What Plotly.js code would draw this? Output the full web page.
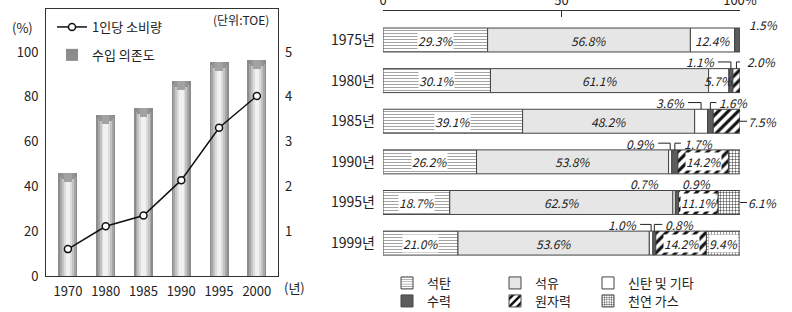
<!DOCTYPE html>
<html><head><meta charset="utf-8">
<script src="https://cdn.plot.ly/plotly-3.0.1.min.js"></script>
<style>body{margin:0;padding:0;background:#fff}#chart{width:792px;height:312px}</style>
</head><body><div id="chart"></div>
<script>
// ---- Left panel data ----
const years = ['1970', '1980', '1985', '1990', '1995', '2000'];
const importDependence = [46, 72, 75, 87, 95.6, 96.4];     // 수입 의존도 (%)
const perCapitaToe = [0.60, 1.11, 1.35, 2.14, 3.31, 4.02];  // 1인당 소비량 (TOE)
const leftTicks = [0, 20, 40, 60, 80, 100];
const rightTicks = [1, 2, 3, 4, 5];

// ---- Right panel data ----
const energyYears = ['1975년', '1980년', '1985년', '1990년', '1995년', '1999년'];
const seriesNames = ['석탄', '석유', '신탄 및 기타', '수력', '원자력', '천연 가스'];
const coal     = [29.3, 30.1, 39.1, 26.2, 18.7, 21.0];
const oil      = [56.8, 61.1, 48.2, 53.8, 62.5, 53.6];
const firewood = [12.4, 5.7, 3.6, 0.9, 0.7, 1.0];
const hydro    = [1.5, 1.1, 1.6, 1.7, 0.9, 0.8];
const nuclear  = [0, 2.0, 7.5, 14.2, 11.1, 14.2];
const gas      = [0, 0, 0, 3.2, 6.1, 9.4];
const pctTickVals = [0, 50, 100];
const pctTickText = ['0', '50', '100%'];

// ---- helpers ----
const W = 792, H = 312;
const px = x => x / W, py = y => 1 - y / H;
const FONT = '"Noto Sans CJK KR", "Noto Sans", sans-serif';
const TXT = '#222';

const traces = [];

// cylindrical gradient bars: overlaid layers
const layers = [
  {w: 0.50, c: '#8c8c8c'}, {w: 0.42, c: '#a6a6a6'}, {w: 0.32, c: '#c3c3c3'},
  {w: 0.22, c: '#dcdcdc'}, {w: 0.12, c: '#f1f1f1'}
];
layers.forEach((L, i) => {
  traces.push({
    type: 'bar', x: years, y: importDependence, width: L.w,
    marker: {color: L.c, line: {width: 0}},
    xaxis: 'x', yaxis: 'y', hoverinfo: 'skip',
    name: '수입 의존도', showlegend: i === 0, legend: 'legend3',
    legendgroup: 'b', legendrank: 2
  });
});
// conical cap at bar tops
const caps = [{w: 0.50, h: 1.6, c: '#8a8a8a'}, {w: 0.36, h: 2.8, c: '#949494'}, {w: 0.2, h: 4.0, c: '#a2a2a2'}];
caps.forEach(C => {
  traces.push({
    type: 'bar', x: years, y: importDependence.map(() => C.h),
    base: importDependence.map(v => v - C.h), width: C.w,
    marker: {color: C.c, line: {width: 0}},
    xaxis: 'x', yaxis: 'y', hoverinfo: 'skip', showlegend: false
  });
});
// line
traces.push({
  type: 'scatter', mode: 'lines+markers', x: years, y: perCapitaToe,
  xaxis: 'x', yaxis: 'y2', name: '1인당 소비량', legend: 'legend3',
  legendgroup: 'a', legendrank: 1,
  line: {color: '#111', width: 1.5},
  marker: {symbol: 'circle', size: 7, color: '#fff', line: {color: '#111', width: 1.5}}
});

// stacked horizontal bars (base from cumulative sums)
const allSeries = [coal, oil, firewood, hydro, nuclear, gas];
const legendIds = ['legend', 'legend2', 'legend4', 'legend5', 'legend6', 'legend7'];
const styles = [
  {color: '#fff', pattern: {shape: '-', fgcolor: '#9a9a9a', bgcolor: '#fff', size: 3, solidity: 0.3}},
  {color: '#e6e6e6'},
  {color: '#ffffff'},
  {color: '#5c5c5c'},
  {color: '#fff', pattern: {shape: '/', fgcolor: '#111', bgcolor: '#fff', size: 7, solidity: 0.45}},
  {color: '#fff', pattern: {shape: '+', fgcolor: '#222', bgcolor: '#fff', size: 3, solidity: 0.28}}
];
const starts = allSeries.map((s, k) => s.map((_, r) => {
  let t = 0; for (let j = 0; j < k; j++) t += allSeries[j][r]; return t;
}));
allSeries.forEach((s, k) => {
  traces.push({
    type: 'bar', orientation: 'h', y: energyYears,
    x: s.map(v => v > 0 ? v : null), base: starts[k], width: 0.59,
    xaxis: 'x3', yaxis: 'y3', name: seriesNames[k],
    legend: legendIds[k],
    marker: Object.assign({line: {color: '#444', width: 1}}, styles[k]),
    hoverinfo: 'skip'
  });
});

// labels
const pxPerUnit = (740 - 383) / 100;
const u = p => p / pxPerUnit;
const LBL_Y = 0.46, BAR_HALF = 0.295;
const annotations = [], shapes = [];
const outside = [
  {r: 0, s: 3, side: 'R', dx: 10, line: false, dy: 0.07},
  {r: 1, s: 3, side: 'L', dx: 14, line: true},
  {r: 1, s: 4, side: 'R', dx: 9, line: true},
  {r: 2, s: 2, side: 'L', dx: 14, line: true},
  {r: 2, s: 3, side: 'R', dx: 7, line: true},
  {r: 2, s: 4, side: 'E'},
  {r: 3, s: 2, side: 'L', dx: 13, line: true},
  {r: 3, s: 3, side: 'R', dx: 7, line: true},
  {r: 3, s: 5, side: 'E'},
  {r: 4, s: 2, side: 'L', dx: 13, line: false},
  {r: 4, s: 3, side: 'R', dx: 3, line: false},
  {r: 4, s: 5, side: 'E'},
  {r: 5, s: 2, side: 'L', dx: 12, line: true},
  {r: 5, s: 3, side: 'R', dx: 9, line: true}
];
const lblFont = {family: FONT, size: 12, color: TXT, style: 'italic'};
const isOutside = (r, s) => outside.find(o => o.r === r && o.s === s);
allSeries.forEach((s, k) => {
  s.forEach((v, r) => {
    if (!(v > 0)) return;
    const txt = v.toFixed(1) + '%';
    const c = starts[k][r] + v / 2;
    const o = isOutside(r, k);
    if (!o) {
      const a = {x: c, y: energyYears[r], xref: 'x3', yref: 'y3', text: txt, showarrow: false, font: lblFont};
      if (k === 0 || k === 4 || k === 5) { a.bgcolor = '#fff'; a.borderpad = 0; }
      annotations.push(a);
      return;
    }
    const ly = r - LBL_Y + (o.dy || 0);
    const lc = {color: '#222', width: 1};
    if (o.side === 'L') {
      annotations.push({x: c, y: ly, xref: 'x3', yref: 'y3', xshift: -o.dx, xanchor: 'right', yanchor: 'middle', text: txt, showarrow: false, font: lblFont});
      if (o.line) shapes.push({type: 'path', xref: 'x3', yref: 'y3', line: lc,
        path: `M${c - u(o.dx - 1)},${ly} L${c},${ly} L${c},${r - BAR_HALF}`});
    } else if (o.side === 'R') {
      annotations.push({x: c, y: ly, xref: 'x3', yref: 'y3', xshift: o.dx, xanchor: 'left', yanchor: 'middle', text: txt, showarrow: false, font: lblFont});
      if (o.line) shapes.push({type: 'path', xref: 'x3', yref: 'y3', line: lc,
        path: `M${c},${r - BAR_HALF} L${c},${ly} L${c + u(o.dx - 1)},${ly}`});
    } else {
      const end = starts[k][r] + v;
      annotations.push({x: end, y: r, xref: 'x3', yref: 'y3', ax: 7, ay: 0, xanchor: 'left', yanchor: 'middle',
        text: txt, showarrow: true, arrowhead: 0, arrowwidth: 1, arrowcolor: '#222', standoff: 0, startstandoff: 0, borderpad: 0, font: lblFont});
    }
  });
});

// left-panel text
const paperTxt = (x, y, t, size) => ({xref: 'paper', yref: 'paper', x: px(x), y: py(y), xanchor: 'center', yanchor: 'middle',
  text: t, showarrow: false, font: {family: FONT, size: size, color: TXT}});
annotations.push(paperTxt(22, 27, '(%)', 13));
annotations.push(paperTxt(241, 19, '(단위:TOE)', 12));
annotations.push(paperTxt(294, 287, '(년)', 13));

const axBase = {showgrid: false, zeroline: false, tickfont: {family: FONT, size: 13, color: TXT}, linecolor: '#333', linewidth: 1};
const legFont = {family: FONT, size: 13, color: TXT};
const legendCols = [387, 495, 588, 387, 495, 588];
const legendRows = [283, 283, 283, 301, 301, 301];
const legendBoxes = {};
legendIds.forEach((id, k) => {
  legendBoxes[id] = {orientation: 'v', x: px(legendCols[k]), y: py(legendRows[k]), xanchor: 'left', yanchor: 'middle',
    bgcolor: 'rgba(0,0,0,0)', font: legFont};
});

const layout = Object.assign({
  width: W, height: H, margin: {l: 0, r: 0, t: 0, b: 0, autoexpand: false},
  paper_bgcolor: '#fff', plot_bgcolor: 'rgba(0,0,0,0)',
  barmode: 'overlay', bargap: 0,
  font: {family: FONT, size: 13, color: TXT},
  xaxis: Object.assign({}, axBase, {domain: [px(46), px(278)], anchor: 'y', type: 'category',
    categoryarray: years, range: [-0.58, 5.56], showline: true, mirror: true, ticks: '', ticklabelstandoff: 3}),
  yaxis: Object.assign({}, axBase, {domain: [py(276), py(9)], anchor: 'x', range: [0, 119.2],
    tickvals: leftTicks, showline: true, mirror: true, ticks: '', ticklabelstandoff: 4}),
  yaxis2: Object.assign({}, axBase, {overlaying: 'y', side: 'right', anchor: 'x', range: [0, 5.96],
    tickvals: rightTicks, showline: false, ticks: '', ticklabelstandoff: 6}),
  xaxis3: Object.assign({}, axBase, {domain: [px(383), px(740)], anchor: 'y3', side: 'top', range: [0, 100],
    tickvals: pctTickVals, ticktext: pctTickText, ticks: 'inside', ticklen: 6, tickcolor: '#333',
    showline: true, tickfont: {family: FONT, size: 13, color: TXT}}),
  yaxis3: Object.assign({}, axBase, {domain: [py(263), py(11)], anchor: 'x3', type: 'category',
    categoryarray: energyYears, range: [5.49, -0.714], ticks: '', showline: false, ticklabelstandoff: 7,
    tickfont: {family: FONT, size: 14, color: TXT}}),
  legend3: {orientation: 'v', x: px(52), y: py(12), xanchor: 'left', yanchor: 'top',
    traceorder: 'grouped', tracegroupgap: 8, bgcolor: 'rgba(0,0,0,0)', font: legFont},
  annotations: annotations,
  shapes: shapes
}, legendBoxes);

Plotly.newPlot('chart', traces, layout, {staticPlot: true, displayModeBar: false});
</script>
</body></html>
